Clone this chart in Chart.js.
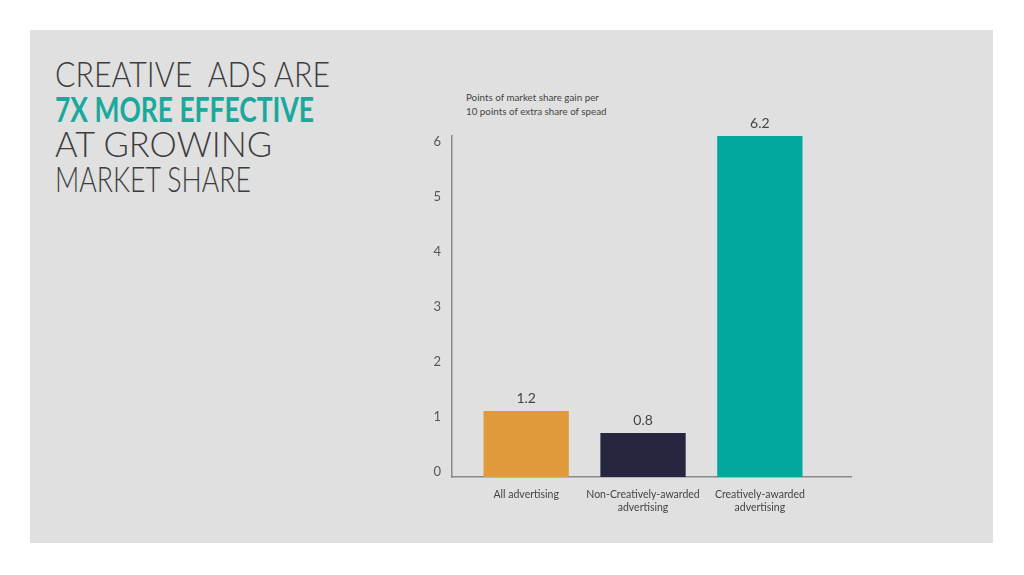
<!DOCTYPE html>
<html>
<head>
<meta charset="utf-8">
<script src="https://cdn.jsdelivr.net/npm/chart.js@4.4.1/dist/chart.umd.min.js"></script>
<style>
  html, body { margin: 0; padding: 0; background: #fff; }
  body { width: 1024px; height: 575px; position: relative; overflow: hidden; font-family: "Lato", sans-serif; }
  .panel { position: absolute; left: 30px; top: 30px; width: 963px; height: 513px; background: #e0e0e0; }
  .title { position: absolute; left: 55px; top: 56px; font-size: 35px; line-height: 35px; color: #3c3c3e; font-weight: 300; }
  .title div { white-space: nowrap; transform-origin: left center; display: inline-block; }
  .title .hl { color: #19a99d; font-weight: 700; }
  .sub { position: absolute; left: 466px; top: 90px; font-size: 9.8px; line-height: 14px; color: #444; }
  .wrap { position: absolute; left: 0; top: 0; width: 1024px; height: 575px; }
</style>
</head>
<body>
<div class="panel"></div>
<div class="title">
  <div data-w="275">CREATIVE&nbsp; ADS ARE</div><br>
  <div class="hl" data-w="259">7X MORE EFFECTIVE</div><br>
  <div data-w="217">AT GROWING</div><br>
  <div data-w="196">MARKET SHARE</div>
</div>
<div class="sub">Points of market share gain per<br>10 points of extra share of spead</div>
<div class="wrap"><canvas id="chart"></canvas></div>
<script>
// squeeze the title lines to the width of the original lettering
document.querySelectorAll(".title div").forEach((el) => {
  const w = Number(el.dataset.w);
  el.style.transform = "scaleX(" + (w / el.getBoundingClientRect().width) + ")";
});

// data
const categories = [
  "All advertising",
  ["Non-Creatively-awarded", "advertising"],
  ["Creatively-awarded", "advertising"],
];
const values = [1.2, 0.8, 6.2];
const barColors = ["#df9b3b", "#262640", "#00a89d"];
const yTicks = [0, 1, 2, 3, 4, 5, 6];

// value labels above the bars
const valueLabels = {
  id: "valueLabels",
  afterDatasetsDraw(chart) {
    const c = chart.ctx;
    const meta = chart.getDatasetMeta(0);
    c.save();
    c.font = "14px Lato";
    c.fillStyle = "#444";
    c.textAlign = "center";
    c.textBaseline = "bottom";
    meta.data.forEach((bar, i) => {
      c.fillText(values[i].toFixed(1), bar.x, bar.y - 6);
    });
    c.restore();
  },
};

const chart = new Chart(document.getElementById("chart"), {
  type: "bar",
  data: {
    datasets: [
      {
        data: values.map((v, i) => ({ x: i, y: v })),
        backgroundColor: barColors,
        borderWidth: 0,
        barPercentage: 0.73,
        categoryPercentage: 1,
      },
    ],
  },
  options: {
    responsive: true,
    maintainAspectRatio: false,
    animation: false,
    layout: { padding: { left: 422, right: 173, top: 136, bottom: 48 } },
    plugins: { legend: { display: false }, tooltip: { enabled: false } },
    scales: {
      x: {
        type: "linear",
        offset: false,
        bounds: "data",
        min: -0.635,
        max: 2.78,
        grid: { display: false, drawTicks: false, offset: false },
        border: { color: "#8a8a8a", width: 1.5 },
        afterBuildTicks: (scale) => {
          scale.ticks = categories.map((c, i) => ({ value: i }));
        },
        afterFit: (scale) => { scale.height = 50; },
        ticks: {
          autoSkip: false,
          maxRotation: 0,
          padding: 11,
          color: "#444",
          font: { family: "Lato", size: 10.5, lineHeight: 1.25 },
          callback: (v) => categories[v],
        },
      },
      y: {
        min: 0,
        max: 6.2,
        grid: { display: false, drawTicks: false },
        border: { color: "#8a8a8a", width: 1.5 },
        afterBuildTicks: (scale) => {
          scale.ticks = yTicks.map((v) => ({ value: v }));
        },
        afterFit: (scale) => { scale.width = 30; },
        ticks: {
          padding: 11,
          labelOffset: -5,
          color: "#555",
          font: { family: "Lato", size: 13 },
        },
      },
    },
  },
  plugins: [valueLabels],
});
</script>
</body>
</html>
